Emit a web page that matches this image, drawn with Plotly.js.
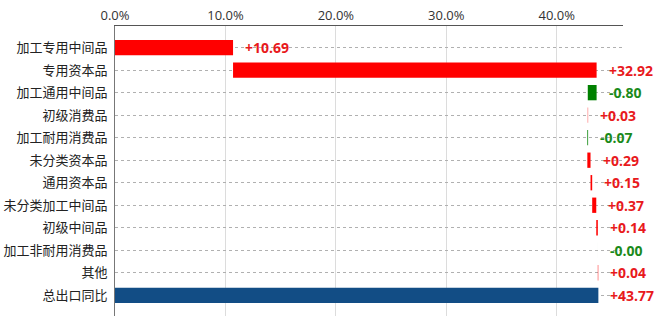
<!DOCTYPE html>
<html><head><meta charset="utf-8">
<script src="https://cdn.plot.ly/plotly-3.0.1.min.js"></script>
<style>html,body{margin:0;padding:0;background:#fff;}#chart{width:660px;height:323px;}</style>
</head><body><div id="chart"></div>
<script>
const categories = ["加工专用中间品","专用资本品","加工通用中间品","初级消费品","加工耐用消费品","未分类资本品","通用资本品","未分类加工中间品","初级中间品","加工非耐用消费品","其他","总出口同比"];
const values = [10.69, 32.92, -0.80, 0.03, -0.07, 0.29, 0.15, 0.37, 0.14, -0.001, 0.04, 43.77];
const labels = ["+10.69","+32.92","-0.80","+0.03","-0.07","+0.29","+0.15","+0.37","+0.14","-0.00","+0.04","+43.77"];
const measures = ["relative","relative","relative","relative","relative","relative","relative","relative","relative","relative","relative","absolute"];

const RED = "#ff0000", GREEN = "#008000", BLUE = "#124d85";
const TXT_RED = "#e8191c", TXT_GREEN = "#1a8a1a";

let cum = 0; const ann = [];
for (let i = 0; i < categories.length; i++) {
  let start, end;
  if (measures[i] === "absolute") { start = 0; end = values[i]; cum = values[i]; }
  else { start = cum; end = cum + values[i]; cum = end; }
  const neg = labels[i].startsWith("-");
  ann.push({x: Math.max(start, end), y: categories[i], xref: "x", yref: "y", text: "<b>" + labels[i] + "</b>",
    showarrow: false, xanchor: "left", xshift: 10, font: {size: 14, color: neg ? TXT_GREEN : TXT_RED, family: "Open Sans, sans-serif"}});
}

const trace = {
  type: "waterfall", orientation: "h",
  y: categories, x: values, measure: measures,
  increasing: {marker: {color: RED}},
  decreasing: {marker: {color: GREEN}},
  totals: {marker: {color: BLUE}},
  connector: {visible: false},
  width: 0.68,
  textinfo: "none", hoverinfo: "none"
};

const layout = {
  width: 660, height: 323,
  margin: {l: 115, r: 37, t: 26, b: 7},
  paper_bgcolor: "#fff", plot_bgcolor: "#fff",
  showlegend: false,
  font: {family: "Noto Sans CJK SC, sans-serif", color: "#222"},
  xaxis: {side: "top", range: [0, 46], tickvals: [0,10,20,30,40], ticktext: ["0.0%","10.0%","20.0%","30.0%","40.0%"],
    showgrid: true, gridcolor: "#dcdcdc", gridwidth: 1, zeroline: false,
    showline: true, linecolor: "#555", linewidth: 1, ticks: "", tickfont: {size: 13, color: "#333", family: "Open Sans, sans-serif"}},
  yaxis: {type: "category", categoryorder: "array", categoryarray: categories, range: [11.92, -0.96],
    showgrid: true, gridcolor: "#b0b0b0", griddash: "dot", gridwidth: 1, zeroline: false,
    showline: true, linecolor: "#777", linewidth: 1, ticks: "", ticklabelstandoff: 4,
    tickfont: {size: 13, color: "#222", family: "Noto Sans CJK SC, sans-serif"}},
  annotations: ann
};

Plotly.newPlot("chart", [trace], layout, {displayModeBar: false, staticPlot: true});
</script></body></html>
